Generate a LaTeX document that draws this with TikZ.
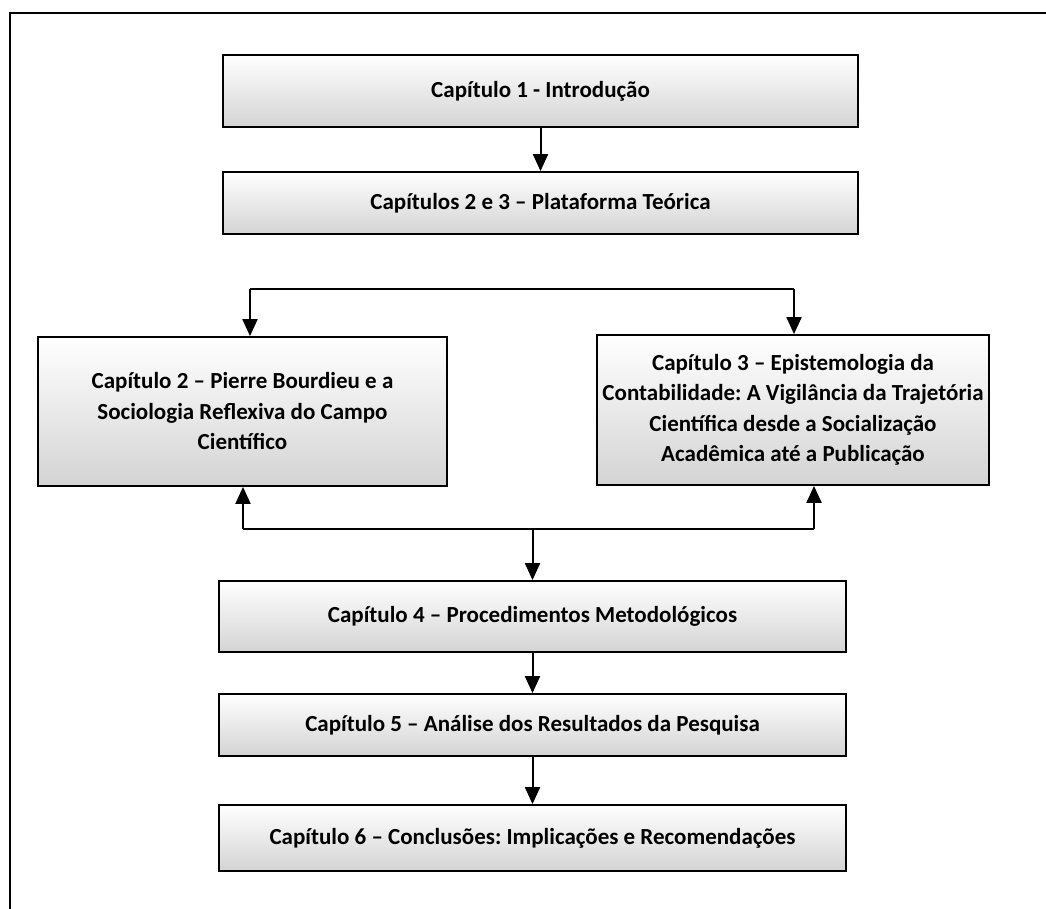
\documentclass[tikz,border=0pt]{standalone}
\usepackage{fontspec}
\setmainfont{Carlito}
\usetikzlibrary{arrows.meta}
\tikzset{
  chbox/.style={draw=black, line width=1.8pt, top color=white, bottom color=black!17,
    inner sep=0pt, align=center, font=\fontsize{23}{30.5}\selectfont\bfseries\frenchspacing},
  arr/.style={line width=2pt, -{Triangle[width=15pt,length=17pt]}},
  ln/.style={line width=2pt},
  frame/.style={line width=2.2pt, line cap=rect}
}
\begin{document}
\begin{tikzpicture}[x=1pt,y=-1pt]
\useasboundingbox (0,0) rectangle (1046,909);
\draw[frame] (10,909) -- (10,13) -- (1046,13);

\node[chbox, minimum width=635pt, minimum height=72pt] (c1) at (540.5,91) {Capítulo 1 - Introdução};
\node[chbox, minimum width=635pt, minimum height=62pt] (c23) at (540.5,203) {Capítulos 2 e 3 – Plataforma Teórica};
\node[chbox, minimum width=409pt, minimum height=149pt] (c2) at (242.5,411.5)
  {Capítulo 2 – Pierre Bourdieu e a\\Sociologia Reflexiva do Campo\\Científico};
\node[chbox, minimum width=392pt, minimum height=150pt] (c3) at (793,410)
  {Capítulo 3 – Epistemologia da\\Contabilidade: A Vigilância da Trajetória\\Científica desde a Socialização\\Acadêmica até a Publicação};
\node[chbox, minimum width=627pt, minimum height=71pt] (c4) at (532.5,616.5) {Capítulo 4 – Procedimentos Metodológicos};
\node[chbox, minimum width=627pt, minimum height=62pt] (c5) at (532.5,725) {Capítulo 5 – Análise dos Resultados da Pesquisa};
\node[chbox, minimum width=627pt, minimum height=66pt] (c6) at (532.5,838) {Capítulo 6 – Conclusões: Implicações e Recomendações};

\coordinate (tl) at (250,289);
\coordinate (tr) at (794,289);
\coordinate (bl) at (243,529);
\coordinate (br) at (814,529);
\coordinate (bm) at (532.5,529);

\draw[arr] (c1.south -| 540.5,0) -- (c23.north);
\draw[ln] (tl) -- (tr);
\draw[arr] (tl) -- (tl |- c2.north);
\draw[arr] (tr) -- (tr |- c3.north);
\draw[ln] (bl) -- (br);
\draw[arr] (bl) -- (bl |- c2.south);
\draw[arr] (br) -- (br |- c3.south);
\draw[arr] (bm) -- (c4.north);
\draw[arr] (c4.south) -- (c5.north);
\draw[arr] (c5.south) -- (c6.north);
\end{tikzpicture}
\end{document}
